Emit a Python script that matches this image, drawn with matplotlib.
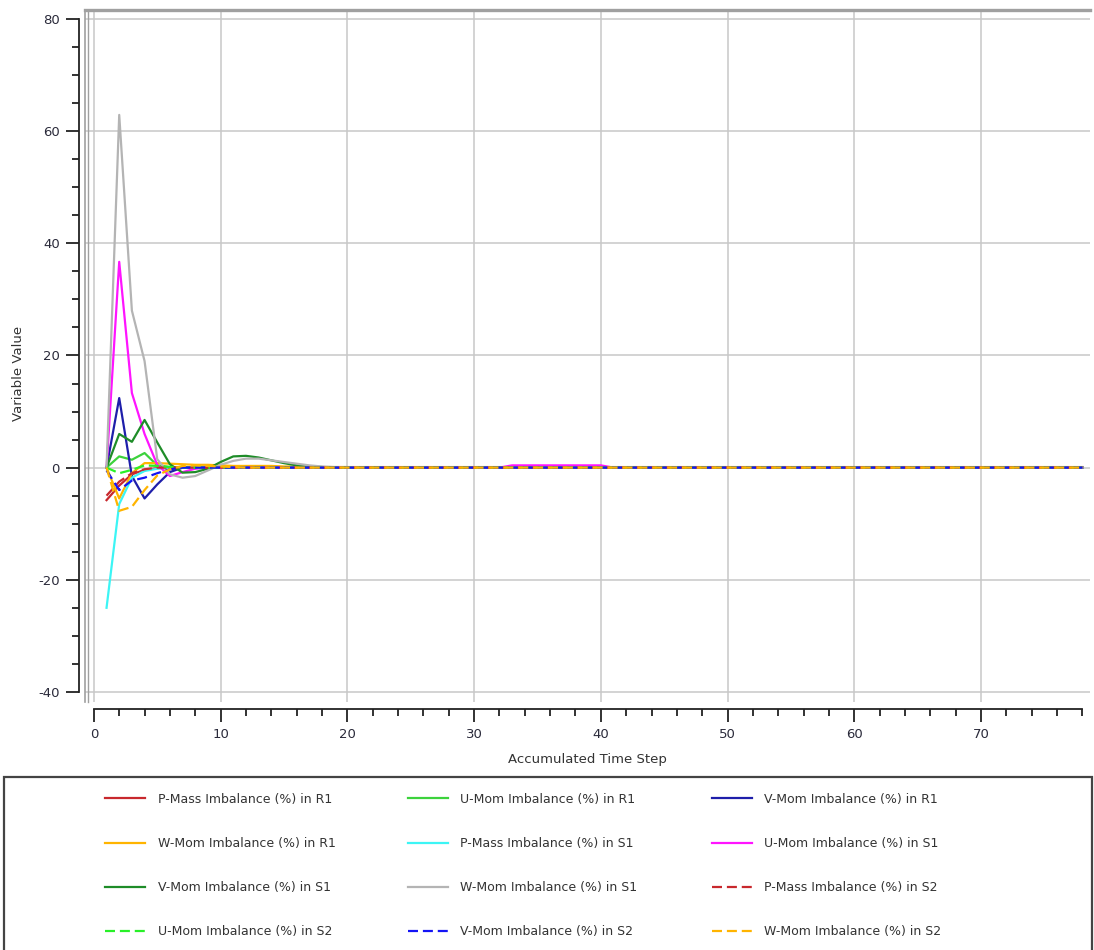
import matplotlib
matplotlib.use("Agg")
import matplotlib.pyplot as plt
from matplotlib.patches import Rectangle
from matplotlib.ticker import MultipleLocator

plt.rcParams["font.family"] = ["DejaVu Sans"]
plt.rcParams["axes.unicode_minus"] = False

# accumulated time steps 1..78
steps = list(range(1, 79))

# early part of each history (steps 1-20), then the converged tail (steps 21-78)
p_mass_r1 = [-5.8, -3.2, -1.2, -0.4, -0.1, 0.0, 0.0, 0.0, 0.0, 0.0,
             0.0, 0.0, 0.0, 0.0, 0.0, 0.0, 0.0, 0.0, 0.0, 0.0] + [0.0] * 58
u_mom_r1 = [0.0, 2.0, 1.4, 2.6, 0.4, 0.1, 0.0, 0.0, 0.0, 0.0,
            0.0, 0.0, 0.0, 0.0, 0.0, 0.0, 0.0, 0.0, 0.0, 0.0] + [0.0] * 58
v_mom_r1 = [0.0, 12.4, -1.5, -5.5, -3.0, -0.8, 0.0, 0.0, 0.0, 0.0,
            0.0, 0.0, 0.0, 0.0, 0.0, 0.0, 0.0, 0.0, 0.0, 0.0] + [0.0] * 58
w_mom_r1 = [0.0, -5.5, -1.0, 0.8, 0.8, 0.7, 0.6, 0.5, 0.5, 0.4,
            0.3, 0.3, 0.3, 0.3, 0.2, 0.2, 0.2, 0.1, 0.1, 0.1] + [0.1] * 58
p_mass_s1 = [-25.0, -6.5, -1.8, -0.6, -0.2, 0.0, 0.0, 0.0, 0.0, 0.0,
             0.0, 0.0, 0.0, 0.0, 0.0, 0.0, 0.0, 0.0, 0.0, 0.0] + [0.0] * 58
u_mom_s1 = [0.0, 36.7, 13.3, 6.0, 0.5, -1.5, -0.8, -0.2, 0.0, 0.0,
            0.0, 0.0, 0.0, 0.0, 0.0, 0.0, 0.0, 0.0, 0.0, 0.0] + [0.0] * 12 + [0.4] * 8 + [0.0] * 38
v_mom_s1 = [0.0, 6.0, 4.6, 8.5, 4.5, 0.6, -0.9, -0.8, -0.2, 1.0,
            2.0, 2.1, 1.8, 1.3, 0.8, 0.4, 0.2, 0.1, 0.0, 0.0] + [0.0] * 58
w_mom_s1 = [0.0, 62.9, 28.0, 19.0, 1.5, -1.2, -1.8, -1.5, -0.5, 0.5,
            1.2, 1.6, 1.6, 1.3, 1.0, 0.7, 0.4, 0.2, 0.1, 0.1] + [0.0] * 58
p_mass_s2 = [-5.0, -2.5, -1.0, -0.3, 0.0, 0.0, 0.0, 0.0, 0.0, 0.0,
             0.0, 0.0, 0.0, 0.0, 0.0, 0.0, 0.0, 0.0, 0.0, 0.0] + [0.0] * 58
u_mom_s2 = [0.0, -1.0, -0.4, 0.4, 0.3, 0.1, 0.0, 0.0, 0.0, 0.0,
            0.0, 0.0, 0.0, 0.0, 0.0, 0.0, 0.0, 0.0, 0.0, 0.0] + [0.0] * 58
v_mom_s2 = [-0.5, -4.0, -2.3, -1.8, -1.0, -0.3, 0.0, 0.0, 0.0, 0.0,
            0.0, 0.0, 0.0, 0.0, 0.0, 0.0, 0.0, 0.0, 0.0, 0.0] + [0.0] * 58
w_mom_s2 = [0.0, -7.7, -7.0, -4.0, -1.4, -0.3, 0.3, 0.4, 0.3, 0.2,
            0.1, 0.0, 0.0, 0.0, 0.0, 0.0, 0.0, 0.0, 0.0, 0.0] + [0.0] * 58

series = [
    ("P-Mass Imbalance (%) in R1", p_mass_r1, "#C8282D", "-"),
    ("U-Mom Imbalance (%) in R1", u_mom_r1, "#3CD23C", "-"),
    ("V-Mom Imbalance (%) in R1", v_mom_r1, "#1E1EAA", "-"),
    ("W-Mom Imbalance (%) in R1", w_mom_r1, "#FFB400", "-"),
    ("P-Mass Imbalance (%) in S1", p_mass_s1, "#3CF5F5", "-"),
    ("U-Mom Imbalance (%) in S1", u_mom_s1, "#FF14FF", "-"),
    ("V-Mom Imbalance (%) in S1", v_mom_s1, "#1E8C28", "-"),
    ("W-Mom Imbalance (%) in S1", w_mom_s1, "#B4B4B4", "-"),
    ("P-Mass Imbalance (%) in S2", p_mass_s2, "#C8282D", "--"),
    ("U-Mom Imbalance (%) in S2", u_mom_s2, "#28F028", "--"),
    ("V-Mom Imbalance (%) in S2", v_mom_s2, "#1414F5", "--"),
    ("W-Mom Imbalance (%) in S2", w_mom_s2, "#FFB400", "--"),
]

fig = plt.figure(figsize=(10.94, 9.5), dpi=100)
ax = fig.add_axes([85 / 1094, 1 - 702 / 950, 1005 / 1094, 692.5 / 950])

handles = []
for name, vals, color, ls in series:
    (ln,) = ax.plot(steps, vals, color=color, lw=1.6, ls=ls, label=name)
    if ls == "--":
        ln.set_dashes((4.5, 2.2))
    handles.append(ln)

ax.set_xlim(-0.7, 78.6)
ax.set_ylim(-41.8, 81.7)
ax.xaxis.set_major_locator(MultipleLocator(10))
ax.xaxis.set_minor_locator(MultipleLocator(2))
ax.yaxis.set_major_locator(MultipleLocator(20))
ax.yaxis.set_minor_locator(MultipleLocator(5))
ax.grid(True, which="major", color="#C8C8C8", lw=1.1)
ax.set_axisbelow(True)

for side in ("top", "right"):
    ax.spines[side].set_visible(False)
ax.spines["left"].set_position(("outward", 4.5))
ax.spines["left"].set_bounds(-40, 80)
ax.spines["bottom"].set_position(("outward", 5))
ax.spines["bottom"].set_bounds(0, 78)
for side in ("left", "bottom"):
    ax.spines[side].set_color("#222222")
    ax.spines[side].set_linewidth(1.3)

ax.tick_params(which="major", length=9.5, width=1.3, color="#222222",
               labelsize=9.5, labelcolor="#2A2A3A", pad=4)
ax.tick_params(which="minor", length=5, width=1.3, color="#222222")

# grey plot-area frame (left double line and thick top line)
ax.plot([0, 0], [0, 1], transform=ax.transAxes, color="#A0A0A0", lw=1.2, clip_on=False)
ax.plot([0.0025, 0.0025], [0, 1], transform=ax.transAxes, color="#A0A0A0", lw=1.0, clip_on=False)
ax.plot([0, 1], [1, 1], transform=ax.transAxes, color="#A0A0A0", lw=2.4, clip_on=False)

ax.set_xlabel("Accumulated Time Step", fontsize=9.5, color="#333333", labelpad=9)
ax.set_ylabel("Variable Value", fontsize=9.5, color="#333333")
ax.yaxis.set_label_coords(-0.06, 0.475)

# legend box
fig.add_artist(Rectangle((4 / 1094, -0.01), 1088 / 1094, 1 - 777 / 950 + 0.01,
                         transform=fig.transFigure, fill=False,
                         edgecolor="#444444", lw=1.6))

col_x = [105, 408, 712]
for c in range(3):
    col_handles = handles[c::3]
    fig.legend(handles=col_handles, labels=[h.get_label() for h in col_handles],
               loc="center left", bbox_to_anchor=(col_x[c] / 1094, 1 - 865.5 / 950),
               frameon=False, fontsize=9, handlelength=3.2, handletextpad=1.0,
               labelspacing=2.5, borderpad=0, borderaxespad=0, labelcolor="#333333")

fig.savefig("out.png", dpi=100)
